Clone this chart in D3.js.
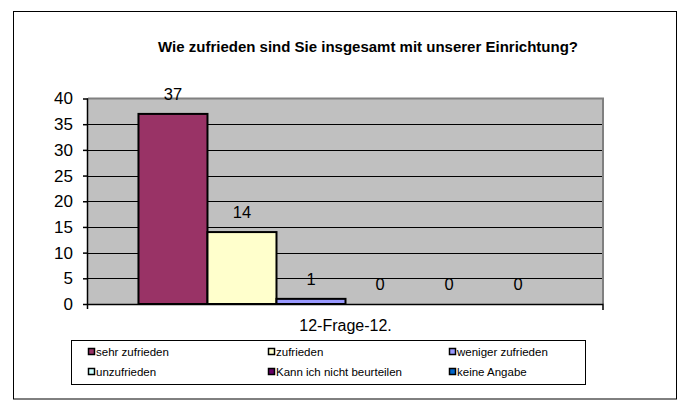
<!DOCTYPE html>
<html>
<head>
<meta charset="utf-8">
<script src="https://cdn.jsdelivr.net/npm/d3@7"></script>
<style>
  html, body { margin: 0; padding: 0; background: #fff; }
  svg { display: block; font-family: Arial, "Liberation Sans", sans-serif; }
</style>
</head>
<body>
<svg id="chart" width="679" height="401"></svg>
<script>
// Survey answers for question 12
const title = "Wie zufrieden sind Sie insgesamt mit unserer Einrichtung?";
const categories = ["12-Frage-12."];
const seriesNames = ["sehr zufrieden", "zufrieden", "weniger zufrieden", "unzufrieden", "Kann ich nicht beurteilen", "keine Angabe"];
const seriesValues = [37, 14, 1, 0, 0, 0];
const seriesColors = ["#993366", "#FFFFCC", "#9999FF", "#CCFFFF", "#660066", "#0066CC"];
const yTicks = [0, 5, 10, 15, 20, 25, 30, 35, 40];

const svg = d3.select("#chart");

// Outer chart frame
svg.append("rect")
  .attr("x", 13.5).attr("y", 11.5)
  .attr("width", 663).attr("height", 387.5)
  .attr("fill", "#fff").attr("stroke", "#000").attr("stroke-width", 1);

svg.append("text")
  .attr("x", 368).attr("y", 52)
  .attr("text-anchor", "middle")
  .attr("font-size", 15).attr("font-weight", "bold")
  .text(title);

const plot = { left: 88, right: 603, top: 98.5, bottom: 304 };

const y = d3.scaleLinear().domain([0, 40]).range([plot.bottom, plot.top]);
const x0 = d3.scaleBand().domain(categories)
  .range([plot.left, plot.right]).paddingInner(0.196).paddingOuter(0.098);
const x1 = d3.scaleBand().domain(seriesNames).range([0, x0.bandwidth()]);

// Plot area background
svg.append("rect")
  .attr("x", plot.left).attr("y", plot.top)
  .attr("width", plot.right - plot.left).attr("height", plot.bottom - plot.top)
  .attr("fill", "#C0C0C0");

// Gridlines
svg.append("g").selectAll("line").data(yTicks.filter(d => d > 0 && d < 40)).join("line")
  .attr("x1", plot.left).attr("x2", plot.right)
  .attr("y1", d => Math.round(y(d)) + 0.5).attr("y2", d => Math.round(y(d)) + 0.5)
  .attr("stroke", "#000").attr("stroke-width", 1);

// Plot area border (top and right)
svg.append("path")
  .attr("d", `M${plot.left},${plot.top} H${plot.right} V${plot.bottom}`)
  .attr("fill", "none").attr("stroke", "#808080").attr("stroke-width", 2);

// Bars
const gBars = svg.append("g");
categories.forEach(cat => {
  gBars.selectAll("rect").data(seriesValues.map((v, i) => ({ v, i }))).join("rect")
    .attr("x", d => x0(cat) + x1(seriesNames[d.i]))
    .attr("y", d => y(d.v))
    .attr("width", x1.bandwidth())
    .attr("height", d => y(0) - y(d.v))
    .attr("fill", d => seriesColors[d.i])
    .attr("stroke", "#000").attr("stroke-width", 2)
    .attr("visibility", d => d.v > 0 ? "visible" : "hidden");

  svg.append("g").selectAll("text").data(seriesValues.map((v, i) => ({ v, i }))).join("text")
    .attr("x", d => x0(cat) + x1(seriesNames[d.i]) + x1.bandwidth() / 2)
    .attr("y", d => y(d.v) - 14)
    .attr("text-anchor", "middle")
    .attr("font-size", 16.5)
    .text(d => d.v);
});

// Y axis
const yAxis = d3.axisLeft(y).tickValues(yTicks).tickSize(5).tickPadding(10);
const gy = svg.append("g").attr("transform", `translate(${plot.left},0)`).call(yAxis);
gy.select(".domain").attr("d", `M-0.5,${plot.top}V${plot.bottom + 5}`).attr("stroke", "#000").attr("stroke-width", 1.5);
gy.selectAll(".tick line").attr("stroke", "#000").attr("stroke-width", 1.5);
gy.selectAll(".tick text").attr("font-size", 17).attr("font-family", "Arial, 'Liberation Sans', sans-serif").attr("fill", "#000");

// X axis
const xAxis = d3.axisBottom(x0).tickSize(0).tickPadding(16);
const gx = svg.append("g").attr("transform", `translate(0,${plot.bottom})`).call(xAxis);
gx.select(".domain").attr("d", `M${plot.left},0.5H${plot.right}V6`).attr("stroke", "#000").attr("stroke-width", 1.5);
gx.selectAll(".tick text").attr("font-size", 16).attr("font-family", "Arial, 'Liberation Sans', sans-serif").attr("fill", "#000");

// Legend
const legend = svg.append("g");
legend.append("rect")
  .attr("x", 71.5).attr("y", 340.5).attr("width", 514).attr("height", 44)
  .attr("fill", "#fff").attr("stroke", "#000").attr("stroke-width", 1);
const colX = [88, 268, 449];
const rowY = [352, 372];
const items = legend.selectAll("g").data(seriesNames).join("g")
  .attr("transform", (d, i) => `translate(${colX[i % 3]},${rowY[Math.floor(i / 3)]})`);
items.append("rect")
  .attr("x", 0.5).attr("y", -3.5).attr("width", 6).attr("height", 6)
  .attr("fill", (d, i) => seriesColors[i]).attr("stroke", "#000").attr("stroke-width", 1.5);
items.append("text")
  .attr("x", 8).attr("y", 4)
  .attr("font-size", 11.5)
  .text(d => d);
</script>
</body>
</html>
